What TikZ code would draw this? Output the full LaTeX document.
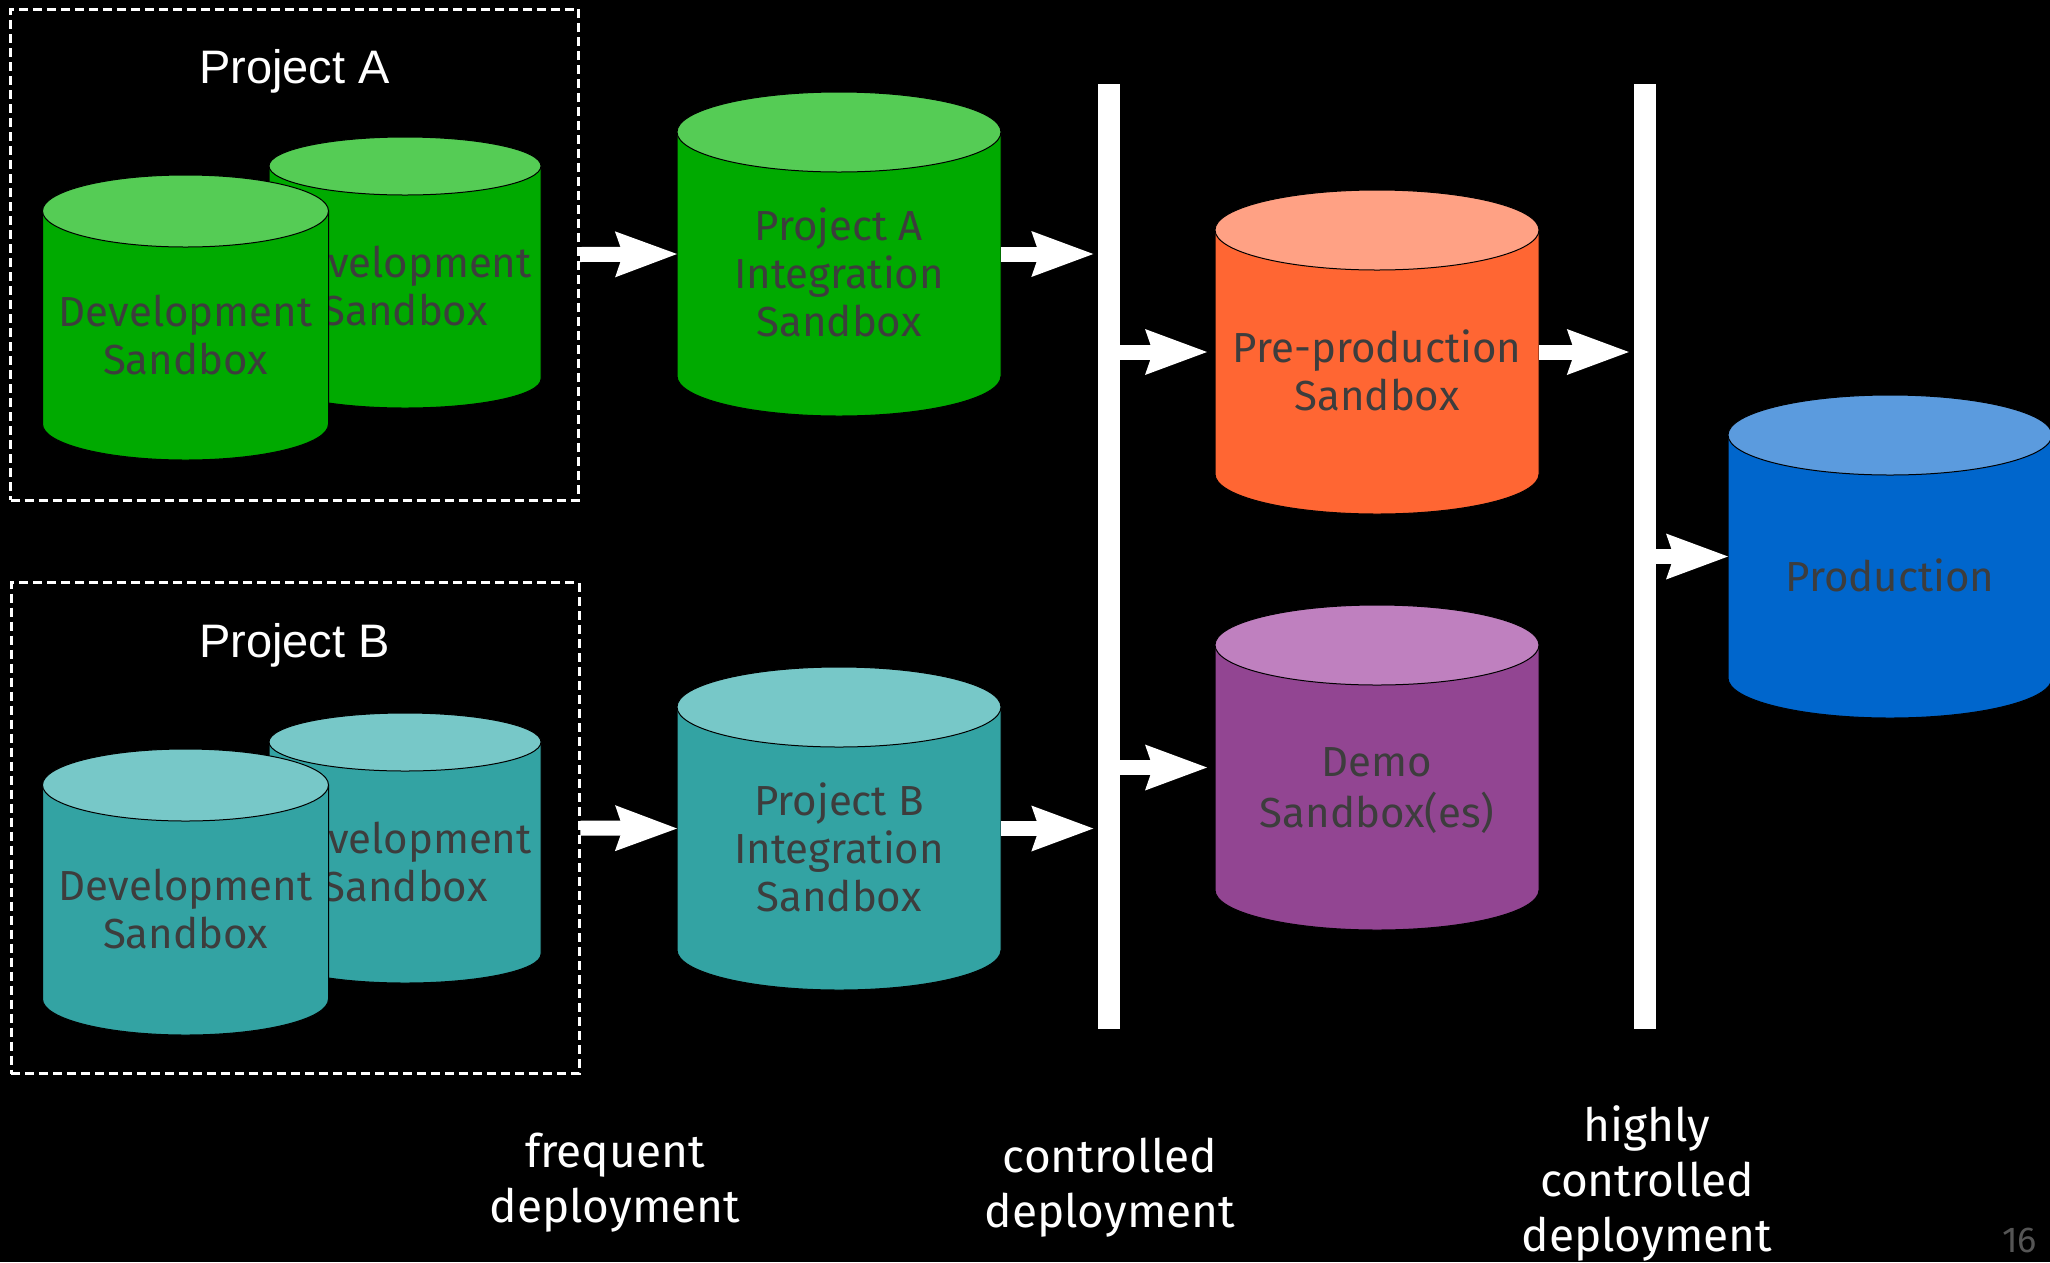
\documentclass[tikz,border=0pt]{standalone}
\usepackage{fontspec}
\setmainfont{Fira Sans}
\newfontfamily\titlefont{Liberation Sans}
\usetikzlibrary{arrows.meta}

\definecolor{greenbody}{HTML}{00AA00}
\definecolor{greentop}{HTML}{55CC55}
\definecolor{tealbody}{HTML}{33A3A3}
\definecolor{tealtop}{HTML}{77C8C8}
\definecolor{orangebody}{HTML}{FF6633}
\definecolor{orangetop}{HTML}{FFA184}
\definecolor{purplebody}{HTML}{924592}
\definecolor{purpletop}{HTML}{BF80BF}
\definecolor{bluebody}{HTML}{0066CC}
\definecolor{bluetop}{HTML}{5B9BDE}
\definecolor{labelgray}{HTML}{3D3D3D}
\definecolor{pagegray}{HTML}{555555}

\tikzset{
  cylbody/.style={draw=black, line width=1pt},
  cylshape/.style={inner sep=0pt, outer sep=0pt},
  cyltext/.style={inner sep=0pt, align=center, text=labelgray,
    font=\fontsize{42}{48}\selectfont},
  projbox/.style={draw=white, line width=3pt, dash pattern=on 9pt off 5pt,
    inner sep=0pt, minimum width=568pt, minimum height=491pt},
  projtitle/.style={inner sep=0pt, text=white, font=\titlefont\fontsize{47}{56}\selectfont},
  gate/.style={fill=white, inner sep=0pt, minimum width=22pt, minimum height=945pt},
  stagetext/.style={inner sep=0pt, align=center, text=white,
    font=\fontsize{46}{55}\selectfont},
  flow/.style={draw=white, line width=15pt,
    -{Stealth[length=62pt, width=46pt, inset=8pt, line width=0pt]}},
}

% Database cylinder: #1 name, #2 centre x, #3 top y, #4 bottom y,
% #5 x radius, #6 y radius of the ends, #7 colour prefix, #8 label
\newcommand\dbcylinder[8]{%
  \path[cylbody, fill=#7body] (#2-#5,#3+#6) -- (#2-#5,#4-#6)
    arc[start angle=180, end angle=0, x radius=#5, y radius=#6]
    -- (#2+#5,#3+#6) -- cycle;
  \path[cylbody, fill=#7top] (#2,#3+#6) ellipse[x radius=#5, y radius=#6];
  \node[cylshape, minimum width=2*#5, minimum height=#4-#3] (#1) at (#2,{(#3+#4)/2}) {};
  \node[cyltext] (#1-label) at (#2,{(#3+#6+#4)/2+5}) {\strut #8\strut};
}

\begin{document}
\begin{tikzpicture}[x=1pt, y=-1pt]
  \fill[black] (0,0) rectangle (2050,1262);
  \useasboundingbox (0,0) rectangle (2050,1262);

  % project groups
  \node[projbox] (boxA) at (294.5,254.5) {};
  \node[projbox] (boxB) at (295,828) {};
  \node[projtitle, anchor=base] (titleA) at (294.5,83) {Project A};
  \node[projtitle, anchor=base] (titleB) at (294.5,657) {Project B};

  % development sandboxes
  \dbcylinder{devA2}{405}{137}{408}{136}{29}{green}{Development\\Sandbox}
  \dbcylinder{devA1}{185.5}{175}{460}{143}{36}{green}{Development\\Sandbox}
  \dbcylinder{devB2}{405}{713}{983}{136}{29}{teal}{Development\\Sandbox}
  \dbcylinder{devB1}{185.5}{749}{1035}{143}{36}{teal}{Development\\Sandbox}

  % integration sandboxes
  \dbcylinder{intA}{839}{92}{416}{162}{40}{green}{Project A\\Integration\\Sandbox}
  \dbcylinder{intB}{839}{667}{990}{162}{40}{teal}{Project B\\Integration\\Sandbox}

  % shared environments
  \dbcylinder{pre}{1377}{190}{514}{162}{40}{orange}{Pre-production\\Sandbox}
  \dbcylinder{demo}{1377}{605}{930}{162}{40}{purple}{Demo\\Sandbox(es)}
  \dbcylinder{prod}{1890}{395}{718}{162}{40}{blue}{Production}

  % deployment gates
  \node[gate] (bar1) at (1108.5,556.5) {};
  \node[gate] (bar2) at (1645,556.5) {};

  % promotion flow
  \draw[flow] (boxA.east) -- (intA.west);
  \draw[flow] (boxB.east) -- (intB.west);
  \draw[flow, shorten >=4pt] (intA.east) -- (intA.east -| bar1.west);
  \draw[flow, shorten >=4pt] (intB.east) -- (intB.east -| bar1.west);
  \draw[flow, shorten >=8pt] (pre.west -| bar1.east) -- (pre.west);
  \draw[flow, shorten >=8pt] (demo.west -| bar1.east) -- (demo.west);
  \draw[flow, shorten >=5pt] (pre.east) -- (pre.east -| bar2.west);
  \draw[flow] (prod.west -| bar2.east) -- (prod.west);

  % stage captions
  \node[stagetext] (capFreq) at (615,1183.5) {\strut frequent\\deployment\strut};
  \node[stagetext] (capCtrl) at (1110,1188.5) {\strut controlled\\deployment\strut};
  \node[stagetext] (capHigh) at (1647,1185) {\strut highly\\controlled\\deployment\strut};

  \node[anchor=base east, inner sep=0pt, text=pagegray,
    font=\fontsize{36}{43}\selectfont] (pageno) at (2037,1252) {16};
\end{tikzpicture}
\end{document}
